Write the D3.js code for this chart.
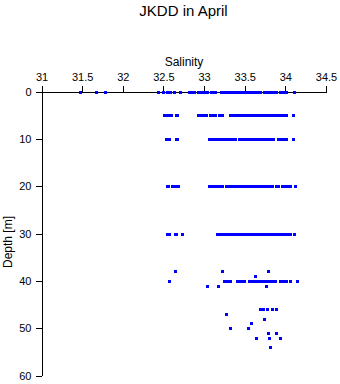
<!DOCTYPE html>
<html>
<head>
<meta charset="utf-8">
<script src="https://cdn.jsdelivr.net/npm/d3@7"></script>
<style>
  html, body { margin: 0; padding: 0; background: #fff; }
  svg { display: block; font-family: "Liberation Sans", Arial, Helvetica, sans-serif; }
  .axis path, .axis line { stroke: #000; shape-rendering: crispEdges; }
  .axis text { font-size: 11px; fill: #000; }
</style>
</head>
<body>
<svg id="chart" width="340" height="384"></svg>
<script>
// ---- data ----
const xTicks = [31, 31.5, 32, 32.5, 33, 33.5, 34, 34.5];
const yTicks = [0, 10, 20, 30, 40, 50, 60];

const sal0 = [31.47, 31.67, 31.78,
  32.43, 32.49, 32.50, 32.54, 32.58, 32.63, 32.70, 32.71,
  32.81, 32.83, 32.85, 32.87,
  32.93, 32.95, 32.98, 33.00, 33.03,
  33.08, 33.10, 33.12, 33.14,
  33.21, 33.23,
  33.27, 33.29, 33.31, 33.33,
  33.36, 33.39,
  33.43, 33.45, 33.47, 33.49, 33.51, 33.53, 33.55, 33.57, 33.59, 33.61, 33.63, 33.65, 33.67, 33.69,
  33.74, 33.76, 33.78, 33.80, 33.82,
  33.85, 33.87, 33.89,
  33.93, 33.95, 33.97, 33.99, 34.01,
  34.11];

const sal5 = [32.51, 32.53, 32.55, 32.57, 32.59,
  32.66, 32.67,
  32.92, 32.94, 32.96, 32.98, 33.00, 33.02,
  33.07, 33.09, 33.11, 33.13, 33.18, 33.20, 33.22,
  33.32, 33.34, 33.36, 33.38, 33.40, 33.42, 33.44, 33.46, 33.48, 33.50,
  33.52, 33.54, 33.56, 33.58, 33.60, 33.62, 33.64, 33.66, 33.68, 33.70,
  33.72, 33.74, 33.76, 33.78, 33.80, 33.82, 33.84, 33.86, 33.88,
  33.91, 33.93, 33.95, 33.97, 33.99, 34.01,
  34.10];

const sal10 = [32.53, 32.55, 32.57,
  32.65, 32.67,
  33.06, 33.08, 33.10, 33.12, 33.14, 33.16, 33.18, 33.20, 33.22, 33.24, 33.26,
  33.30, 33.32, 33.34, 33.36, 33.38,
  33.43, 33.45, 33.47, 33.49, 33.51, 33.53, 33.55, 33.57, 33.59, 33.61, 33.63,
  33.65, 33.67, 33.69, 33.71, 33.73, 33.75, 33.77, 33.79, 33.81, 33.83, 33.85,
  33.91, 33.93, 33.95, 33.97, 33.99, 34.01,
  34.10];

const sal20 = [32.54, 32.56, 32.60, 32.62, 32.64, 32.67, 32.68,
  33.06, 33.08, 33.10, 33.12, 33.14, 33.16,
  33.20, 33.22,
  33.27, 33.29, 33.31, 33.33,
  33.37, 33.39, 33.41, 33.43, 33.45, 33.47,
  33.50, 33.52, 33.54, 33.56, 33.58, 33.60, 33.62, 33.64, 33.66, 33.68,
  33.70, 33.72, 33.74, 33.76, 33.78, 33.80, 33.82, 33.84,
  33.88, 33.91,
  33.96, 33.98, 34.00, 34.02, 34.04, 34.06,
  34.12];

const sal30 = [32.55, 32.57, 32.64, 32.66, 32.73,
  33.16, 33.18, 33.20, 33.22, 33.24, 33.26, 33.28, 33.30, 33.32, 33.34, 33.36, 33.38,
  33.42, 33.44, 33.46, 33.48, 33.50, 33.52, 33.54, 33.56, 33.58, 33.60,
  33.62, 33.64, 33.66, 33.68, 33.70, 33.72, 33.74, 33.76,
  33.80, 33.82, 33.84, 33.86, 33.88, 33.90, 33.92, 33.94, 33.96, 33.98,
  34.00, 34.02, 34.04, 34.06,
  34.11];

const sal40 = [32.57, 33.24, 33.26, 33.28, 33.30, 33.32,
  33.41, 33.43, 33.45, 33.47, 33.49,
  33.55, 33.57, 33.59, 33.61, 33.63, 33.65, 33.67, 33.69, 33.71, 33.73,
  33.75, 33.77, 33.79, 33.81, 33.83, 33.85, 33.87,
  33.93, 33.95, 33.97, 33.99, 34.01,
  34.06, 34.14];

// scattered deeper samples
const deepDepth = [38, 38, 38, 39, 41, 41, 41, 46, 46, 46, 46, 46, 47, 48, 49, 50, 50, 51, 51, 52, 52, 52, 54];
const deepSal   = [32.64, 33.22, 33.79, 33.63, 33.03, 33.17, 33.76,
  33.69, 33.72, 33.78, 33.83, 33.88, 33.27, 33.74, 33.58, 33.32, 33.54,
  33.79, 33.88, 33.64, 33.80, 33.93, 33.81];

// build point table
const rows = [[0, sal0], [5, sal5], [10, sal10], [20, sal20], [30, sal30], [40, sal40]];
const points = [];
rows.forEach(([d, arr]) => arr.forEach(s => points.push({sal: s, depth: d})));
deepDepth.forEach((d, i) => points.push({sal: deepSal[i], depth: d}));

// ---- chart ----
const svg = d3.select("#chart");
const x = d3.scaleLinear().domain([31, 34.5]).range([41.5, 326]);
const y = d3.scaleLinear().domain([0, 60]).range([91.5, 375.5]);

svg.append("text")
  .attr("x", 183.5).attr("y", 16)
  .attr("text-anchor", "middle")
  .style("font-size", "15px")
  .text("JKDD in April");

svg.append("text")
  .attr("x", 184).attr("y", 66)
  .attr("text-anchor", "middle")
  .style("font-size", "12px")
  .text("Salinity");

svg.append("text")
  .attr("transform", "translate(12,242) rotate(-90)")
  .attr("text-anchor", "middle")
  .style("font-size", "12px")
  .text("Depth [m]");

const xAxis = svg.append("g").attr("class", "axis")
  .attr("transform", "translate(0,91.5)")
  .call(d3.axisTop(x).tickValues(xTicks).tickFormat(d3.format("")).tickSize(6).tickSizeOuter(0).tickPadding(5));
xAxis.selectAll("text").attr("dy", 0).attr("y", -11);

const yAxis = svg.append("g").attr("class", "axis")
  .attr("transform", "translate(41.5,0)")
  .call(d3.axisLeft(y).tickValues(yTicks).tickSize(6).tickSizeOuter(0).tickPadding(4));

svg.append("g")
  .selectAll("rect")
  .data(points)
  .join("rect")
  .attr("x", d => Math.round(x(d.sal)) - 1.5)
  .attr("y", d => Math.round(y(d.depth)) - 1.5)
  .attr("width", 3)
  .attr("height", 3)
  .attr("fill", "#0000ff")
  .attr("shape-rendering", "crispEdges");
</script>
</body>
</html>
